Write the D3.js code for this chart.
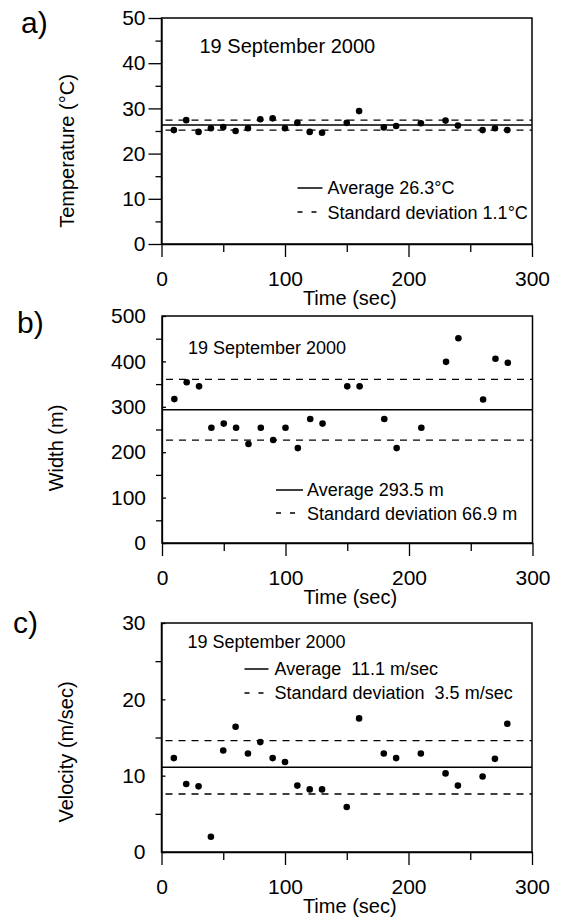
<!DOCTYPE html>
<html>
<head>
<meta charset="utf-8">
<script src="https://cdn.jsdelivr.net/npm/d3@7"></script>
<style>
  body { margin: 0; background: #fff; }
  svg text { font-family: "Liberation Sans", Arial, sans-serif; fill: #000; }
  .axis path, .axis line { stroke: #000; stroke-width: 1.3; }
</style>
</head>
<body>
<div id="chart"></div>
<script>
// sample times (sec), same for all three panels
var times = [10, 20, 30, 40, 50, 60, 70, 80, 90, 100, 110, 120, 130, 150, 160, 180, 190, 210, 230, 240, 260, 270, 280];

var temperature = [25.2, 27.4, 24.8, 25.6, 25.9, 25.0, 25.6, 27.6, 27.8, 25.6, 26.8, 24.8, 24.6,
                   26.8, 29.4, 25.8, 26.1, 26.7, 27.3, 26.2, 25.2, 25.6, 25.2];
var widthM = [317, 354, 345, 254, 263, 254, 218, 254, 227, 254, 209, 273, 263,
              345, 345, 273, 209, 254, 399, 451, 316, 406, 397];
var velocity = [12.3, 8.9, 8.6, 2.0, 13.3, 16.4, 12.9, 14.4, 12.3, 11.8, 8.7, 8.2, 8.2,
                5.9, 17.5, 12.9, 12.3, 12.9, 10.3, 8.7, 9.9, 12.2, 16.8];

var averages = [26.3, 293.5, 11.1];
var stdDevs = [1.1, 66.9, 3.5];

var panelLabels = ["a)", "b)", "c)"];
var yTitles = ["Temperature (\u00b0C)", "Width (m)", "Velocity (m/sec)"];
var dateLabel = "19 September 2000";
var avgLabels = ["Average 26.3\u00b0C", "Average 293.5 m", "Average  11.1 m/sec"];
var sdLabels = ["Standard deviation 1.1\u00b0C", "Standard deviation 66.9 m", "Standard deviation  3.5 m/sec"];

var xTicks = [0, 100, 200, 300];
var xMinor = [50, 150, 250];
var yTicksList = [[0, 10, 20, 30, 40, 50], [0, 100, 200, 300, 400, 500], [0, 10, 20, 30]];
var yMinorList = [[5, 15, 25, 35, 45], [50, 150, 250, 350, 450], [5, 15, 25]];
var yMax = [50, 500, 30];

var W = 565, H = 919;
var svg = d3.select("#chart").append("svg")
    .attr("width", W)
    .attr("height", H);

// layout of the three boxes
var panels = [
  { left: 161.5, top: 18,  h: 226, data: temperature,
    date: [38, 35, 20], leg: { x0: 136, x1: 161, tx: 166, y1: 170, b1: 176, y2: 194, b2: 201 },
    titleX: 74, titleY: 151, lab: [21, 33] },
  { left: 162, top: 316, h: 227, data: widthM,
    date: [26, 38, 18], leg: { x0: 114, x1: 141, tx: 145, y1: 174, b1: 180, y2: 197, b2: 204 },
    titleX: 63, titleY: 448, lab: [17, 333] },
  { left: 161.5, top: 623, h: 229, data: velocity,
    date: [26, 25, 18], leg: { x0: 83, x1: 107, tx: 113, y1: 46, b1: 52, y2: 70, b2: 76 },
    titleX: 73, titleY: 752, lab: [13, 633] }
];
var plotW = 370.5;

panels.forEach(function(p, i) {
  var x = d3.scaleLinear().domain([0, 300]).range([0, plotW]);
  var y = d3.scaleLinear().domain([0, yMax[i]]).range([p.h, 0]);

  var g = svg.append("g").attr("transform", "translate(" + p.left + "," + p.top + ")");

  // minor ticks first, then major
  g.append("g").attr("class", "axis")
      .attr("transform", "translate(0," + p.h + ")")
      .call(d3.axisBottom(x).tickValues(xMinor).tickSize(8).tickFormat(""))
      .select(".domain").remove();
  var xa = g.append("g").attr("class", "axis")
      .attr("transform", "translate(0," + p.h + ")")
      .call(d3.axisBottom(x).tickValues(xTicks).tickSize(13).tickPadding(14).tickSizeOuter(0));
  xa.selectAll("text").attr("font-size", 21);

  g.append("g").attr("class", "axis")
      .call(d3.axisLeft(y).tickValues(yMinorList[i]).tickSize(6).tickFormat(""))
      .select(".domain").remove();
  var ya = g.append("g").attr("class", "axis")
      .call(d3.axisLeft(y).tickValues(yTicksList[i]).tickSize(13).tickPadding(3).tickSizeOuter(0));
  ya.selectAll("text").attr("font-size", 21);
  if (i > 0) {
    ya.selectAll(".tick line").attr("x2", 4);
  }

  // frame
  g.append("rect")
      .attr("width", plotW).attr("height", p.h)
      .attr("fill", "none").attr("stroke", "#000").attr("stroke-width", 1.5);

  // mean and +/- sd lines
  var m = averages[i], s = stdDevs[i];
  g.append("line")
      .attr("x1", x(0)).attr("x2", x(300))
      .attr("y1", y(m)).attr("y2", y(m))
      .attr("stroke", "#000").attr("stroke-width", 1.5);
  [m + s, m - s].forEach(function(v) {
    g.append("line")
        .attr("x1", x(0) + 4).attr("x2", x(300))
        .attr("y1", y(v)).attr("y2", y(v))
        .attr("stroke", "#000").attr("stroke-width", 1.3)
        .attr("stroke-dasharray", "7,6");
  });

  g.selectAll("circle")
    .data(times.map(function(t, k) { return [t, p.data[k]]; }))
    .enter().append("circle")
      .attr("cx", function(d) { return x(d[0]); })
      .attr("cy", function(d) { return y(d[1]); })
      .attr("r", 3.3)
      .attr("fill", "#000");

  g.append("text")
      .attr("x", p.date[0]).attr("y", p.date[1])
      .attr("font-size", p.date[2])
      .text(dateLabel);

  // legend
  var L = p.leg;
  g.append("line")
      .attr("x1", L.x0).attr("x2", L.x1).attr("y1", L.y1).attr("y2", L.y1)
      .attr("stroke", "#000").attr("stroke-width", 1.5);
  g.append("line")
      .attr("x1", L.x0).attr("x2", L.x1).attr("y1", L.y2).attr("y2", L.y2)
      .attr("stroke", "#000").attr("stroke-width", 1.3)
      .attr("stroke-dasharray", "5,9");
  g.append("text")
      .attr("x", L.tx).attr("y", L.b1)
      .attr("font-size", 18)
      .style("white-space", "pre")
      .text(avgLabels[i]);
  g.append("text")
      .attr("x", L.tx).attr("y", L.b2)
      .attr("font-size", 18)
      .style("white-space", "pre")
      .text(sdLabels[i]);

  // x title
  g.append("text")
      .attr("x", plotW / 2 + 3).attr("y", p.h + 61)
      .attr("text-anchor", "middle")
      .attr("font-size", 20)
      .text("Time (sec)");

  // y title
  svg.append("text")
      .attr("transform", "translate(" + p.titleX + "," + p.titleY + ") rotate(-90)")
      .attr("text-anchor", "middle")
      .attr("font-size", 20)
      .text(yTitles[i]);

  svg.append("text")
      .attr("x", p.lab[0]).attr("y", p.lab[1])
      .attr("font-size", 30)
      .text(panelLabels[i]);
});
</script>
</body>
</html>
